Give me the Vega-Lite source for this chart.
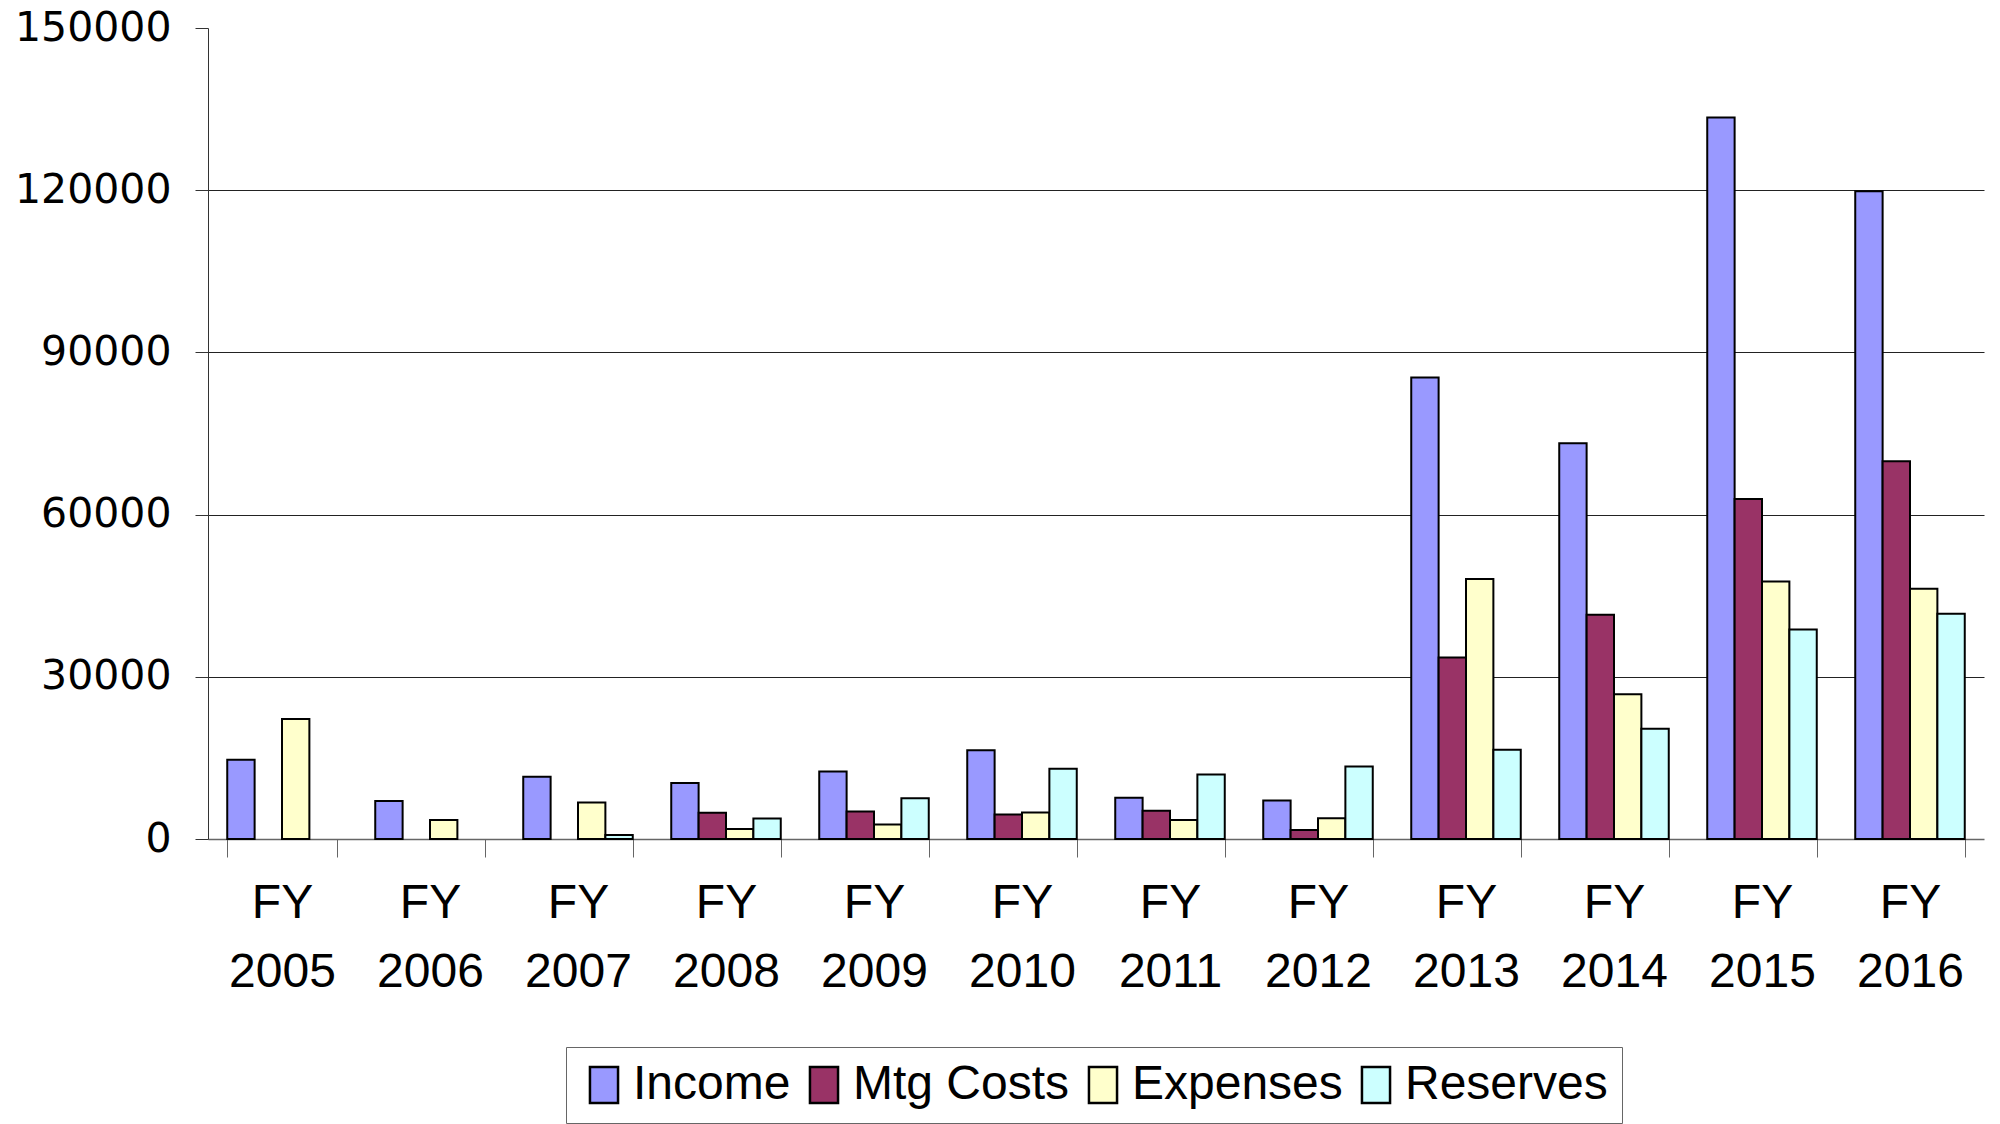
{
  "$schema": "https://vega.github.io/schema/vega-lite/v6.json",
  "width": 1776,
  "height": 811,
  "autosize": {"type": "none"},
  "padding": {"left": 208, "top": 28, "right": 16, "bottom": 285},
  "background": "white",
  "config": {"view": {"stroke": null}},
  "data": {
    "values": [
      {"year": "FY 2005", "series": "Income", "value": 14650},
      {"year": "FY 2005", "series": "Expenses", "value": 22200},
      {"year": "FY 2006", "series": "Income", "value": 7050},
      {"year": "FY 2006", "series": "Expenses", "value": 3520},
      {"year": "FY 2007", "series": "Income", "value": 11500},
      {"year": "FY 2007", "series": "Expenses", "value": 6750},
      {"year": "FY 2007", "series": "Reserves", "value": 730},
      {"year": "FY 2008", "series": "Income", "value": 10370},
      {"year": "FY 2008", "series": "Mtg Costs", "value": 4850},
      {"year": "FY 2008", "series": "Expenses", "value": 1870},
      {"year": "FY 2008", "series": "Reserves", "value": 3770},
      {"year": "FY 2009", "series": "Income", "value": 12480},
      {"year": "FY 2009", "series": "Mtg Costs", "value": 5100},
      {"year": "FY 2009", "series": "Expenses", "value": 2680},
      {"year": "FY 2009", "series": "Reserves", "value": 7540},
      {"year": "FY 2010", "series": "Income", "value": 16400},
      {"year": "FY 2010", "series": "Mtg Costs", "value": 4550},
      {"year": "FY 2010", "series": "Expenses", "value": 4900},
      {"year": "FY 2010", "series": "Reserves", "value": 13000},
      {"year": "FY 2011", "series": "Income", "value": 7650},
      {"year": "FY 2011", "series": "Mtg Costs", "value": 5220},
      {"year": "FY 2011", "series": "Expenses", "value": 3530},
      {"year": "FY 2011", "series": "Reserves", "value": 11950},
      {"year": "FY 2012", "series": "Income", "value": 7100},
      {"year": "FY 2012", "series": "Mtg Costs", "value": 1660},
      {"year": "FY 2012", "series": "Expenses", "value": 3830},
      {"year": "FY 2012", "series": "Reserves", "value": 13420},
      {"year": "FY 2013", "series": "Income", "value": 85350},
      {"year": "FY 2013", "series": "Mtg Costs", "value": 33570},
      {"year": "FY 2013", "series": "Expenses", "value": 48100},
      {"year": "FY 2013", "series": "Reserves", "value": 16500},
      {"year": "FY 2014", "series": "Income", "value": 73180},
      {"year": "FY 2014", "series": "Mtg Costs", "value": 41490},
      {"year": "FY 2014", "series": "Expenses", "value": 26780},
      {"year": "FY 2014", "series": "Reserves", "value": 20370},
      {"year": "FY 2015", "series": "Income", "value": 133440},
      {"year": "FY 2015", "series": "Mtg Costs", "value": 62900},
      {"year": "FY 2015", "series": "Expenses", "value": 47620},
      {"year": "FY 2015", "series": "Reserves", "value": 38760},
      {"year": "FY 2016", "series": "Income", "value": 119800},
      {"year": "FY 2016", "series": "Mtg Costs", "value": 69880},
      {"year": "FY 2016", "series": "Expenses", "value": 46300},
      {"year": "FY 2016", "series": "Reserves", "value": 41680}
    ]
  },
  "mark": {"type": "bar", "stroke": "#000000", "strokeWidth": 2, "opacity": 1},
  "encoding": {
    "x": {
      "field": "year",
      "type": "nominal",
      "sort": null,
      "scale": {"paddingInner": 0.26, "paddingOuter": 0.13},
      "axis": {
        "title": null,
        "labelAngle": 0,
        "labelExpr": "split(datum.label, ' ')",
        "labelFont": "Liberation Sans",
        "labelFontSize": 48,
        "labelLineHeight": 69,
        "labelColor": "#000000",
        "labelPadding": 22,
        "labelBaseline": "top",
        "tickBand": "extent",
        "tickSize": 18,
        "tickColor": "#666666",
        "tickWidth": 1,
        "domainColor": "#666666",
        "domainWidth": 1.5,
        "grid": false
      }
    },
    "xOffset": {
      "field": "series",
      "type": "nominal",
      "scale": {"domain": ["Income", "Mtg Costs", "Expenses", "Reserves"], "paddingInner": 0, "paddingOuter": 0}
    },
    "y": {
      "field": "value",
      "type": "quantitative",
      "scale": {"domain": [0, 150000], "nice": false},
      "axis": {
        "title": null,
        "values": [0, 30000, 60000, 90000, 120000, 150000],
        "format": "d",
        "labelFont": "DejaVu Sans",
        "labelFontSize": 41,
        "labelColor": "#000000",
        "labelPadding": 24,
        "tickSize": 13,
        "tickColor": "#333333",
        "domainColor": "#333333",
        "domainWidth": 1,
        "grid": true,
        "gridColor": "#222222",
        "gridWidth": 1,
        "gridOpacity": {"condition": {"test": "datum.value === 150000 || datum.value === 0", "value": 0}, "value": 1}
      }
    },
    "color": {
      "field": "series",
      "type": "nominal",
      "scale": {
        "domain": ["Income", "Mtg Costs", "Expenses", "Reserves"],
        "range": ["#9999FF", "#993366", "#FFFFCC", "#CCFFFF"]
      },
      "legend": {
        "title": null,
        "orient": "none",
        "direction": "horizontal",
        "legendX": 358,
        "legendY": 1019,
        "strokeColor": "#666666",
        "fillColor": "white",
        "padding": 14,
        "symbolType": "M-0.78,-1H0.78V1H-0.78Z",
        "symbolSize": 1296,
        "symbolStrokeColor": "#000000",
        "symbolStrokeWidth": 2.5,
        "symbolOpacity": 1,
        "labelFont": "Liberation Sans",
        "labelFontSize": 48,
        "labelColor": "#000000",
        "labelOffset": 5,
        "columnPadding": 9,
        "labelLimit": 0
      }
    }
  }
}
